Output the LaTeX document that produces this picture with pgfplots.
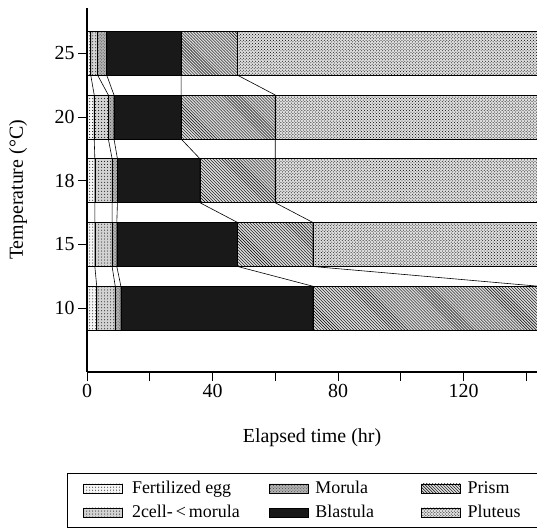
\documentclass[border=0pt]{standalone}
\usepackage{fontspec}
\setmainfont{Liberation Serif}
\usepackage{pgfplots}
\pgfplotsset{compat=1.18}
\usetikzlibrary{patterns}
\pgfplotsset{
  mylegend/.style={legend image code/.code={\draw[##1] (0bp,-4.5bp) rectangle (39bp,4.5bp);}},
  common/.style={at={(87bp,160bp)}, anchor=south west, scale only axis, width=450bp, height=364bp,
    xmin=0, xmax=143.4, ymin=-1, ymax=4.71},
}
\begin{document}
\begin{tikzpicture}
\useasboundingbox (0bp,0bp) rectangle (537bp,532bp);
\begin{axis}[
  common,
  axis lines*=left,
  axis line style={line width=1.1bp},
  xbar stacked, bar width=44bp,
  tick align=outside, major tick length=9bp,
  tick style={line width=1bp, black},
  xtick={0,20,...,140}, xticklabels={0,,40,,80,,120,},
  ytick={0,1,2,3,4}, yticklabels={10,15,18,20,25},
  tick label style={font=\fontsize{20}{24}\selectfont},
  /pgf/number format/assume math mode=true,
  xlabel={Elapsed time (hr)}, ylabel={Temperature (°C)},
  label style={font=\fontsize{20}{24}\selectfont},
  xlabel style={at={(axis description cs:0.5,-0.181)}, anchor=center},
  ylabel style={at={(axis description cs:-0.153,0.5)}, anchor=center},
  legend columns=2, transpose legend,
  legend style={at={(axis description cs:-0.0444,-0.2775)}, anchor=north west,
    draw=black, line width=0.9bp, font=\fontsize{18}{21}\selectfont,
    inner xsep=16bp, inner ysep=6bp, row sep=6bp,
    /tikz/column 1/.style={column sep=7bp},
    /tikz/column 2/.style={column sep=27bp},
    /tikz/column 3/.style={column sep=5bp},
    /tikz/column 4/.style={column sep=45bp},
    /tikz/column 5/.style={column sep=5bp}},
  legend cell align=left,
]
\addplot[mylegend, draw=black, line width=0.6bp, fill=gray!8, postaction={pattern=dots}]
  coordinates {(1.2,4) (2.3,3) (2.5,2) (2.5,1) (3.1,0)};
\addlegendentry{Fertilized egg}
\addplot[mylegend, draw=black, line width=0.6bp, fill=gray!35, postaction={pattern=dots}]
  coordinates {(2.2,4) (4.5,3) (5.5,2) (5.5,1) (5.9,0)};
\addlegendentry{2cell-\,<\,morula}
\addplot[mylegend, draw=black, line width=0.6bp, fill=gray!60, postaction={pattern=crosshatch dots, pattern color=black!70}]
  coordinates {(2.9,4) (1.8,3) (1.7,2) (1.5,1) (1.8,0)};
\addlegendentry{Morula}
\addplot[mylegend, draw=black, line width=0.6bp, fill=black!90]
  coordinates {(23.7,4) (21.4,3) (26.3,2) (38.5,1) (61.2,0)};
\addlegendentry{Blastula}
\addplot[mylegend, draw=black, line width=0.6bp, fill=gray!28, postaction={pattern=north west lines}]
  coordinates {(18,4) (30,3) (24,2) (24,1) (72,0)};
\addlegendentry{Prism}
\addplot[mylegend, draw=black, line width=0.6bp, fill=gray!25, postaction={pattern=crosshatch dots}]
  coordinates {(102,4) (90,3) (90,2) (78,1) (10,0)};
\addlegendentry{Pluteus\hspace{4bp}}
\end{axis}
\begin{axis}[common, hide axis]
\addplot[black, line width=0.6bp] coordinates {(1.2,4.345) (1.2,3.655) (2.3,3.345) (2.3,2.655) (2.5,2.345) (2.5,1.655) (2.5,1.345) (2.5,0.655) (3.1,0.345) (3.1,-0.345)};
\addplot[black, line width=0.6bp] coordinates {(3.4,4.345) (3.4,3.655) (6.8,3.345) (6.8,2.655) (8,2.345) (8,1.655) (8,1.345) (8,0.655) (9,0.345) (9,-0.345)};
\addplot[black, line width=0.6bp] coordinates {(6.3,4.345) (6.3,3.655) (8.6,3.345) (8.6,2.655) (9.7,2.345) (9.7,1.655) (9.5,1.345) (9.5,0.655) (10.8,0.345) (10.8,-0.345)};
\addplot[black, line width=0.6bp] coordinates {(30,4.345) (30,3.655) (30,3.345) (30,2.655) (36,2.345) (36,1.655) (48,1.345) (48,0.655) (72,0.345) (72,-0.345)};
\addplot[black, line width=0.6bp] coordinates {(48,4.345) (48,3.655) (60,3.345) (60,2.655) (60,2.345) (60,1.655) (72,1.345) (72,0.655) (144,0.345) (144,-0.345)};
\end{axis}
\end{tikzpicture}
\end{document}
